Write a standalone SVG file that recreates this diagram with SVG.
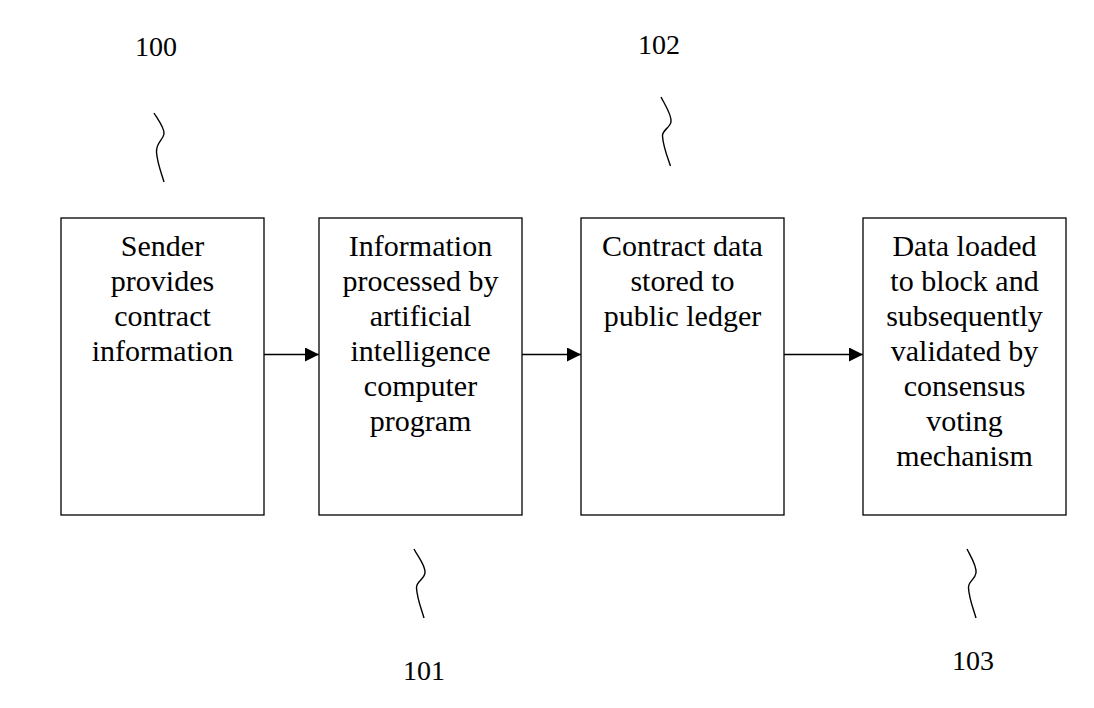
<svg xmlns="http://www.w3.org/2000/svg" width="1094" height="708" viewBox="0 0 1094 708">
<style>
.box{fill:#fff;stroke:#000;stroke-width:1.3}
.t{font-family:"Liberation Serif","Times New Roman",serif;font-size:30px;fill:#000;text-anchor:middle}
.lab{font-family:"Liberation Serif","Times New Roman",serif;font-size:28px;fill:#000;text-anchor:middle}
.sq{fill:none;stroke:#000;stroke-width:1.4}
.conn{stroke:#000;stroke-width:1.3;fill:none}
</style>
<defs>
<marker id="ah" markerWidth="14" markerHeight="14" refX="14" refY="7" orient="auto" markerUnits="userSpaceOnUse">
<path d="M0,0 L14,7 L0,14 Z" fill="#000"/>
</marker>
</defs>
<rect width="1094" height="708" fill="#fff"/>
<g id="node-100">
<rect class="box" x="61" y="218" width="203" height="297"/>
<text class="t"><tspan x="162.5" y="256">Sender</tspan><tspan x="162.5" y="291">provides</tspan><tspan x="162.5" y="326">contract</tspan><tspan x="162.5" y="361">information</tspan></text>
</g>
<g id="node-101">
<rect class="box" x="319" y="218" width="203" height="297"/>
<text class="t"><tspan x="420.5" y="256">Information</tspan><tspan x="420.5" y="291">processed by</tspan><tspan x="420.5" y="326">artificial</tspan><tspan x="420.5" y="361">intelligence</tspan><tspan x="420.5" y="396">computer</tspan><tspan x="420.5" y="431">program</tspan></text>
</g>
<g id="node-102">
<rect class="box" x="581" y="218" width="203" height="297"/>
<text class="t"><tspan x="682.5" y="256">Contract data</tspan><tspan x="682.5" y="291">stored to</tspan><tspan x="682.5" y="326">public ledger</tspan></text>
</g>
<g id="node-103">
<rect class="box" x="863" y="218" width="203" height="297"/>
<text class="t"><tspan x="964.5" y="256">Data loaded</tspan><tspan x="964.5" y="291">to block and</tspan><tspan x="964.5" y="326">subsequently</tspan><tspan x="964.5" y="361">validated by</tspan><tspan x="964.5" y="396">consensus</tspan><tspan x="964.5" y="431">voting</tspan><tspan x="964.5" y="466">mechanism</tspan></text>
</g>
<g id="connectors">
<line class="conn" x1="264" y1="354.5" x2="319" y2="354.5" marker-end="url(#ah)"/>
<line class="conn" x1="522" y1="354.5" x2="581" y2="354.5" marker-end="url(#ah)"/>
<line class="conn" x1="784" y1="354.5" x2="863" y2="354.5" marker-end="url(#ah)"/>
</g>
<g id="ref-labels">
<text class="lab" x="156" y="56">100</text>
<path class="sq" d="M154,113 C159,121 165,129 164,134 C163,140 156,143 156.5,152 C157,162 161,172 164,182"/>
<text class="lab" x="659" y="54">102</text>
<path class="sq" d="M661,97 C665,105 672,115 671,122 C670,128 662,130 662.5,136 C663,146 667,156 670.5,166"/>
<text class="lab" x="424" y="680">101</text>
<path class="sq" d="M414,549 C418,557 426,566 425,573 C424,580 416,581 416.5,588 C417,598 421,608 424,618"/>
<text class="lab" x="973" y="670">103</text>
<path class="sq" d="M967,549 C971,557 977,566 976,573 C975,580 968,581 968.5,588 C969,598 973,608 976,618"/>
</g>
</svg>
